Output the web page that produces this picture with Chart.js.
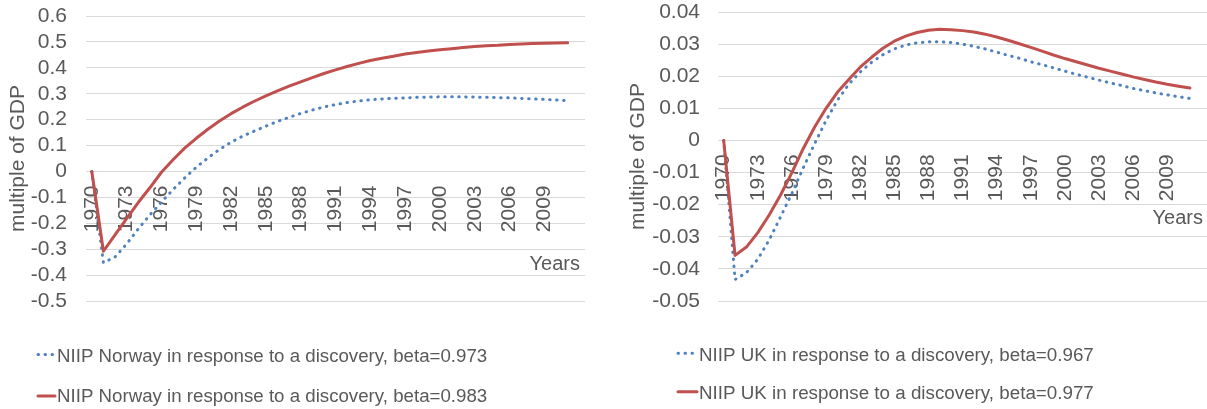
<!DOCTYPE html>
<html>
<head>
<meta charset="utf-8">
<script src="https://cdn.jsdelivr.net/npm/chart.js@4.4.1/dist/chart.umd.min.js"></script>
<style>
  html, body { margin: 0; padding: 0; background: #ffffff; }
  #wrap { position: relative; width: 1207px; height: 409px; overflow: hidden; }
  canvas { position: absolute; top: 0; }
  #norway { left: 0; }
  #uk { left: 600px; }
</style>
</head>
<body>
<div id="wrap">
  <canvas id="norway" width="600" height="409"></canvas>
  <canvas id="uk" width="607" height="409"></canvas>
</div>
<script>
// Years covered by the simulated responses
const years = [1970, 1971, 1972, 1973, 1974, 1975, 1976, 1977, 1978, 1979,
               1980, 1981, 1982, 1983, 1984, 1985, 1986, 1987, 1988, 1989,
               1990, 1991, 1992, 1993, 1994, 1995, 1996, 1997, 1998, 1999,
               2000, 2001, 2002, 2003, 2004, 2005, 2006, 2007, 2008, 2009,
               2010, 2011];

// Labelled years on the horizontal axis
const tickYears = [1970, 1973, 1976, 1979, 1982, 1985, 1988, 1991, 1994, 1997, 2000, 2003, 2006, 2009];

// Norway: net international investment position, multiple of GDP
const norwayBeta973 = [0, -0.352, -0.330, -0.280, -0.222, -0.168, -0.118, -0.070, -0.025, 0.016,
                       0.052, 0.085, 0.113, 0.136, 0.156, 0.175, 0.193, 0.209, 0.224, 0.237,
                       0.249, 0.258, 0.266, 0.272, 0.277, 0.280, 0.282, 0.284, 0.286, 0.287,
                       0.288, 0.288, 0.288, 0.287, 0.286, 0.285, 0.284, 0.282, 0.280, 0.278,
                       0.276, 0.273];
const norwayBeta983 = [0, -0.308, -0.245, -0.182, -0.120, -0.063, -0.003, 0.045, 0.090, 0.128,
                       0.163, 0.195, 0.223, 0.248, 0.271, 0.292, 0.311, 0.329, 0.346, 0.362,
                       0.378, 0.392, 0.405, 0.417, 0.428, 0.437, 0.445, 0.453, 0.459, 0.465,
                       0.470, 0.474, 0.478, 0.482, 0.485, 0.487, 0.490, 0.492, 0.494, 0.495,
                       0.496, 0.497];

// UK: net international investment position, multiple of GDP
const ukBeta967 = [0, -0.0433, -0.0412, -0.0370, -0.0310, -0.0238, -0.0165, -0.0085, -0.0010, 0.0062,
                   0.0125, 0.0175, 0.0213, 0.0243, 0.0267, 0.0285, 0.0297, 0.0304, 0.0307, 0.0307,
                   0.0305, 0.0300, 0.0293, 0.0285, 0.0275, 0.0265, 0.0256, 0.0245, 0.0236, 0.0226,
                   0.0216, 0.0206, 0.0197, 0.0188, 0.0179, 0.0171, 0.0162, 0.0155, 0.0148, 0.0142,
                   0.0136, 0.0131];
const ukBeta977 = [0, -0.0358, -0.0332, -0.0287, -0.0232, -0.0170, -0.0100, -0.0025, 0.0042, 0.0100,
                   0.0150, 0.0190, 0.0228, 0.0259, 0.0287, 0.0309, 0.0325, 0.0336, 0.0343, 0.0346,
                   0.0345, 0.0342, 0.0338, 0.0331, 0.0322, 0.0312, 0.0301, 0.0290, 0.0278, 0.0266,
                   0.0255, 0.0245, 0.0235, 0.0225, 0.0216, 0.0207, 0.0198, 0.0190, 0.0182, 0.0175,
                   0.0169, 0.0163];

// Vertical axis ticks
const norwayTicks = [-0.5, -0.4, -0.3, -0.2, -0.1, 0, 0.1, 0.2, 0.3, 0.4, 0.5, 0.6];
const ukTicks = [-0.05, -0.04, -0.03, -0.02, -0.01, 0, 0.01, 0.02, 0.03, 0.04];

const norwayNames = ['NIIP Norway in response to a discovery, beta=0.973',
                     'NIIP Norway in response to a discovery, beta=0.983'];
const ukNames = ['NIIP UK in response to a discovery, beta=0.967',
                 'NIIP UK in response to a discovery, beta=0.977'];

const yTitle = 'multiple of GDP';
const xTitle = 'Years';

const FONT_FAMILY = '"Liberation Sans", Arial, sans-serif';
const TEXT = '#595959';
const GRID = '#d9d9d9';
const BLUE = '#4F81BD';
const RED = '#C0504D';

Chart.defaults.font.family = FONT_FAMILY;
Chart.defaults.color = TEXT;

const pairs = (vals) => years.map((yr, i) => ({ x: yr, y: vals[i] }));

// Draws the "Years" caption beside the zero line and the stacked legend below the plot
const captions = {
  id: 'captions',
  afterDraw(chart, args, opts) {
    const ctx = chart.ctx;
    const y0 = chart.scales.y.getPixelForValue(0);
    ctx.save();
    ctx.fillStyle = TEXT;
    ctx.textBaseline = 'alphabetic';
    ctx.textAlign = 'right';
    ctx.font = '20px ' + FONT_FAMILY;
    ctx.fillText(xTitle, chart.chartArea.right - opts.yearsInset, y0 + opts.yearsDrop);

    ctx.textAlign = 'left';
    ctx.font = opts.legendSize + 'px ' + FONT_FAMILY;
    chart.data.datasets.forEach((ds, i) => {
      const row = opts.rows[i];
      ctx.beginPath();
      ctx.strokeStyle = ds.borderColor;
      ctx.lineWidth = ds.borderWidth;
      ctx.lineCap = ds.borderCapStyle;
      ctx.setLineDash(ds.borderDash || []);
      ctx.moveTo(opts.x, row.line);
      ctx.lineTo(opts.x + opts.symbolWidth, row.line);
      ctx.stroke();
      ctx.setLineDash([]);
      ctx.fillStyle = TEXT;
      ctx.fillText(ds.label, opts.x + opts.symbolWidth + 2, row.base);
    });
    ctx.restore();
  }
};

function makeChart(id, names, lowBeta, highBeta, ticks, digits, cfg) {
  return new Chart(document.getElementById(id), {
    type: 'line',
    data: {
      datasets: [
        {
          label: names[0],
          data: pairs(lowBeta),
          borderColor: BLUE,
          borderWidth: 3,
          borderDash: [0.5, 6.5],
          borderCapStyle: 'round',
          pointRadius: 0,
          tension: 0,
          fill: false,
          order: 1
        },
        {
          label: names[1],
          data: pairs(highBeta),
          borderColor: RED,
          borderWidth: 3,
          borderCapStyle: 'round',
          borderJoinStyle: 'round',
          pointRadius: 0,
          tension: 0,
          fill: false,
          order: 0
        }
      ]
    },
    options: {
      responsive: false,
      animation: false,
      devicePixelRatio: 1,
      layout: { padding: cfg.padding },
      plugins: {
        legend: { display: false },
        tooltip: { enabled: false },
        captions: cfg.captions
      },
      scales: {
        x: {
          type: 'linear',
          position: { y: 0 },
          min: years[0] - 0.5,
          max: years[years.length - 1] + 1.5,
          grid: { display: false, drawTicks: false },
          border: { display: false },
          afterBuildTicks: (axis) => { axis.ticks = tickYears.map(v => ({ value: v })); },
          ticks: {
            autoSkip: false,
            minRotation: 90,
            maxRotation: 90,
            padding: cfg.xPad,
            color: TEXT,
            font: { size: 21 },
            callback: (v) => String(v)
          }
        },
        y: {
          type: 'linear',
          position: 'left',
          min: ticks[0],
          max: ticks[ticks.length - 1],
          afterBuildTicks: (axis) => { axis.ticks = ticks.map(v => ({ value: v })); },
          afterFit: (scale) => {
            // fixed axis band; the plot area edges are set by the layout padding alone
            scale.width = cfg.axisWidth;
            scale.paddingTop = 0;
            scale.paddingBottom = 0;
          },
          grid: { color: GRID, lineWidth: 1, drawTicks: false },
          border: { display: false },
          ticks: {
            autoSkip: false,
            padding: cfg.tickPad,
            color: TEXT,
            font: { size: 21 },
            callback: (v) => String(Number(Number(v).toFixed(digits)))
          },
          title: {
            display: true,
            text: yTitle,
            color: TEXT,
            font: { size: 21 },
            padding: { top: cfg.titlePad, bottom: 0 }
          }
        }
      }
    },
    plugins: [captions]
  });
}

makeChart('norway', norwayNames, norwayBeta973, norwayBeta983, norwayTicks, 2, {
  padding: { left: 0, right: 15, top: 16, bottom: 108 },
  axisWidth: 86,
  tickPad: 19,
  xPad: 14,
  titlePad: 5.4,
  captions: {
    yearsInset: 5, yearsDrop: 99,
    x: 38, symbolWidth: 17, legendSize: 18.7,
    rows: [{ line: 354.5, base: 362.2 }, { line: 396, base: 402.2 }]
  }
});

makeChart('uk', ukNames, ukBeta967, ukBeta977, ukTicks, 3, {
  padding: { left: 0, right: 0, top: 12, bottom: 108 },
  axisWidth: 118,
  tickPad: 18,
  xPad: 14,
  titlePad: 25.9,
  captions: {
    yearsInset: 4, yearsDrop: 84,
    x: 78, symbolWidth: 19, legendSize: 18.8,
    rows: [{ line: 353.3, base: 360.7 }, { line: 391.7, base: 398.7 }]
  }
});
</script>
</body>
</html>
